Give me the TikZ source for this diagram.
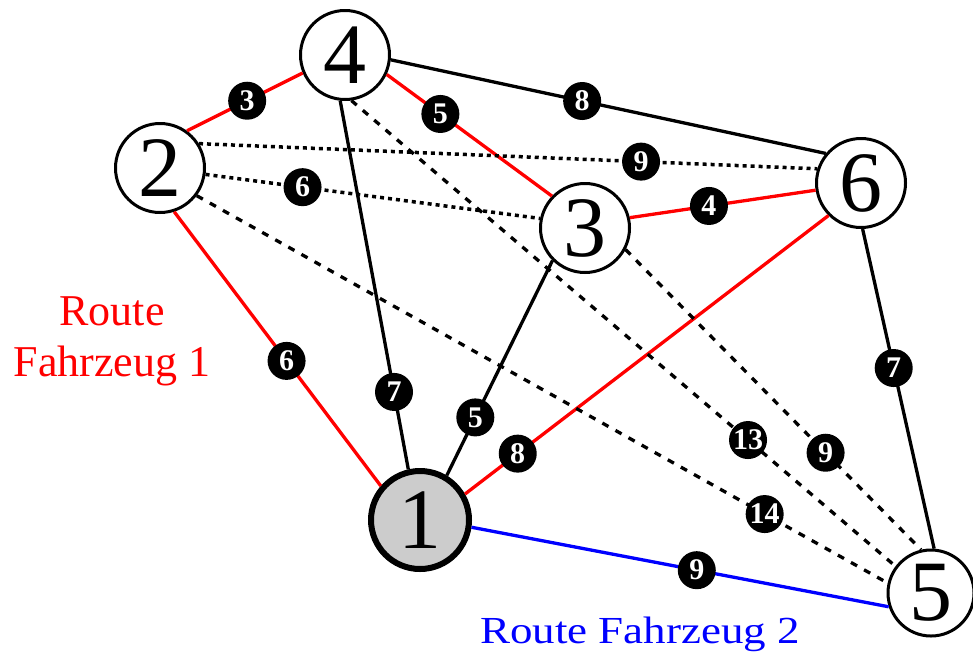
\documentclass[tikz,border=0pt]{standalone}
\usepackage{fontspec}
\setmainfont{Liberation Serif}
\definecolor{pred}{RGB}{255,0,0}
\definecolor{pblue}{RGB}{0,0,255}
\definecolor{nodegray}{RGB}{204,204,204}
\begin{document}
\begin{tikzpicture}[x=1pt,y=-1pt,
  vert/.style={circle,draw=black,line width=3pt,fill=white,inner sep=0pt,minimum size=89pt,font=\fontsize{86}{86}\selectfont},
  depot/.style={vert,line width=6pt,fill=nodegray,minimum size=98pt},
  lbl/.style={circle,fill=black,text=white,inner sep=0pt,minimum size=38pt,font=\fontsize{30}{30}\selectfont\bfseries},
  redge/.style={line width=3.3pt,draw=pred},
  kedge/.style={line width=3.3pt,draw=black},
  bluedge/.style={line width=3.3pt,draw=pblue},
  dotedge/.style={line width=3.5pt,draw=black,dash pattern=on 4pt off 4pt},
  dashedge/.style={line width=3.3pt,draw=black,dash pattern=on 7pt off 8pt}]
\useasboundingbox (0,0) rectangle (973,657);
\node[depot] (n1) at (420,520) {1};
\node[vert] (n2) at (160,168) {2};
\node[vert] (n3) at (585,228) {3};
\node[vert] (n4) at (345,55) {4};
\node[vert,minimum size=86pt] (n5) at (931,593) {5};
\node[vert] (n6) at (861,183) {6};

\draw[redge] (n2.54) -- node[lbl,pos=0.52]{3} (n4.203);
\draw[redge] (n4.335) -- node[lbl,pos=0.325]{5} (n3.136);
\draw[kedge] (n4.354) -- node[lbl,pos=0.44]{8} (n6.140);
\draw[dotedge] (n2.32) -- node[lbl,pos=0.715]{9} (n6.162);
\draw[dotedge] (n2.352) -- node[lbl,pos=0.29]{6} (n3.168);
\draw[redge] (n3.13) -- node[lbl,pos=0.426]{4} (n6.189);
\draw[redge] (n2.288) -- node[lbl,pos=0.544]{6} (n1.139);
\draw[kedge] (n4.264) -- node[lbl,pos=0.79]{7} (n1.103);
\draw[kedge] (n3.225) -- node[lbl,pos=0.73]{5} (n1.59);
\draw[redge] (n6.225) -- node[lbl,pos=0.855]{8} (n1.30);
\draw[bluedge] (n1.352.5) -- node[lbl,pos=0.54]{9} (n5.198);
\draw[kedge] (n6.272) -- node[lbl,pos=0.435]{7} (n5.86);
\draw[dashedge] (n4.278) -- node[lbl,pos=0.729]{13} (n5.143);
\draw[dashedge] (n3.332) -- node[lbl,pos=0.677]{9} (n5.103);
\draw[dashedge] (n2.323) -- node[lbl,pos=0.822]{14} (n5.167);

\node[align=center,text=pred,inner sep=0pt,font=\fontsize{44}{51}\selectfont] (r1) at (112,341) {Route\\Fahrzeug 1};
\node[anchor=base,text=pblue,inner sep=0pt,font=\fontsize{45}{45}\selectfont] (r2) at (640,643) {\scalebox{1}[0.85]{Route Fahrzeug 2}};
\end{tikzpicture}
\end{document}
